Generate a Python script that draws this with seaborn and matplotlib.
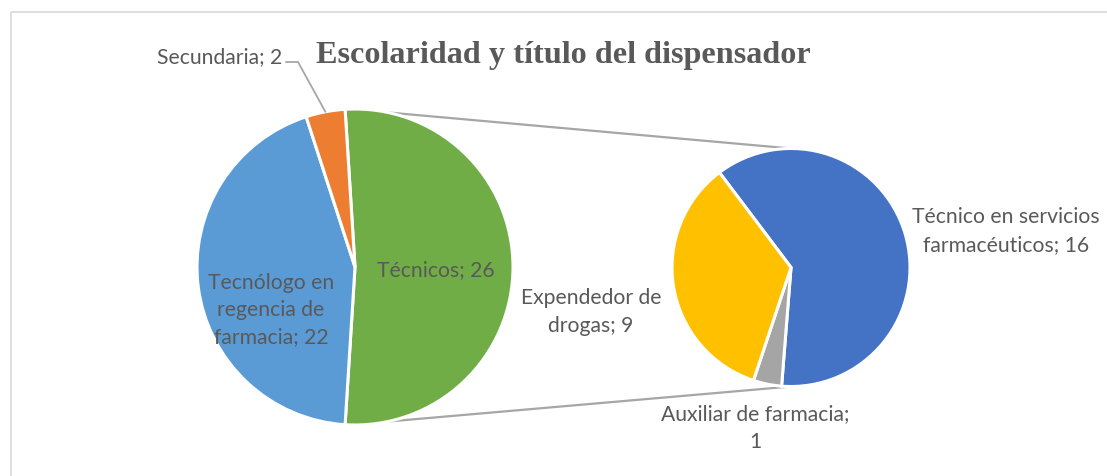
import numpy as np
import matplotlib
matplotlib.use("Agg")
import matplotlib.pyplot as plt
import seaborn as sns

# Datos
main_names = ["Técnicos", "Tecnólogo en\nregencia de\nfarmacia", "Secundaria"]
main_values = [26, 22, 2]
main_colors = ["#70AD47", "#5B9BD5", "#ED7D31"]

sub_names = ["Técnico en servicios\nfarmacéuticos", "Auxiliar de farmacia", "Expendedor de\ndrogas"]
sub_sep = [" ", "\n", " "]
sub_values = [16, 1, 9]
sub_colors = ["#4472C4", "#A5A5A5", "#FFC000"]

title = "Escolaridad y título del dispensador"

W, H = 1107, 477
TXT = "#595959"
LINE = "#A6A6A6"


def py(y):
    # coordenadas de pixel (origen arriba) -> ejes
    return H - y


def main():
    sns.set_style("white")
    plt.rcParams['font.family'] = ['Lato', 'DejaVu Sans']

    fig = plt.figure(figsize=(W / 100, H / 100), dpi=100)
    ax = fig.add_axes([0, 0, 1, 1])

    # Geometria de los dos pasteles
    c1, r1 = (355, py(268)), 158
    c2, r2 = (791, py(268.5)), 119
    total = sum(main_values)

    main_start = 360 * main_values[0] / total / 2
    ax.pie(main_values, colors=main_colors, startangle=main_start, counterclock=False,
           center=c1, radius=r1, wedgeprops=dict(edgecolor="white", linewidth=2.2))
    ax.pie(sub_values, colors=sub_colors, startangle=127, counterclock=False,
           center=c2, radius=r2, wedgeprops=dict(edgecolor="white", linewidth=2.2))

    # Lineas de conexion
    for s in (1, -1):
        a1 = np.deg2rad(78 * s)
        a2 = np.deg2rad(90 * s)
        ax.plot([c1[0] + r1 * np.cos(a1), c2[0] + r2 * np.cos(a2)],
                [c1[1] + r1 * np.sin(a1), c2[1] + r2 * np.sin(a2)],
                color=LINE, lw=1.6, solid_capstyle="butt", zorder=0)

    # Etiquetas
    fs = 15.2
    ls = 1.45
    ax.text(436, py(270), f"{main_names[0]}; {main_values[0]}", ha="center", va="center",
            fontsize=fs, color=TXT)
    ax.text(271, py(310), f"{main_names[1]}; {main_values[1]}", ha="center", va="center",
            fontsize=fs, color=TXT, linespacing=ls)
    ax.text(282, py(57), f"{main_names[2]}; {main_values[2]}", ha="right", va="center",
            fontsize=fs, color=TXT)
    # linea guia de Secundaria (al centro del sector naranja)
    a = np.deg2rad(main_start + 360 * main_values[2] / total / 2)
    ex, ey = c1[0] + r1 * np.cos(a), c1[1] + r1 * np.sin(a)
    ax.plot([286, 298, ex], [py(63), py(63), ey], color=LINE, lw=1.3)

    sub_pos = [(1006, 231), (755, 428), (591, 312)]
    for name, sep, v, (x, y) in zip(sub_names, sub_sep, sub_values, sub_pos):
        ax.text(x, py(y), f"{name};{sep}{v}", ha="center", va="center",
                fontsize=fs, color=TXT, linespacing=ls)

    ax.text(563, py(55), title, ha="center", va="center", fontsize=23.2,
            fontweight="bold", family="Liberation Serif", color=TXT)

    # Marco del grafico
    ax.plot([10.5, 10.5, W], [0, py(12.5), py(12.5)], color="#D9D9D9", lw=1.2)

    ax.set_xlim(0, W)
    ax.set_ylim(0, H)
    ax.set_aspect("equal")
    ax.axis("off")
    fig.savefig("out.png", dpi=100)


if __name__ == '__main__':
    main()
